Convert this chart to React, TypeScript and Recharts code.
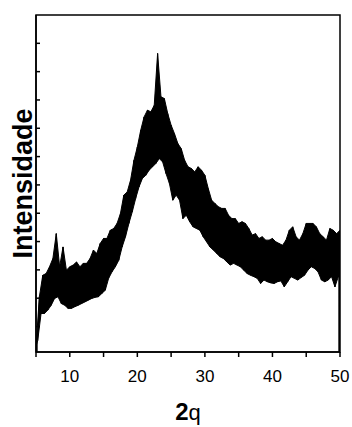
import { ComposedChart, Area, Line, XAxis, YAxis, ReferenceArea } from 'recharts';

// 2θ scan: the noisy trace is read as alternating crest / trough readings of the band
const scanStart = 5;
const scanStep = 0.25;

// crest readings at 5.0, 5.5, ... 50.0
const crests = [
  -7, 10.5, 18.1, 18.7, 21.1, 24.0, 32.8, 21.1, 28.1, 19.9,
  21.1, 21.7, 22.8, 21.1, 22.3, 22.3, 24.0, 27.0, 25.8, 29.3,
  31.1, 31.1, 34.0, 34.6, 36.4, 39.9, 46.4, 47.5, 51.7, 58.7,
  63.4, 69.3, 74.0, 76.4, 75.8, 78.1, 96.4, 81.1, 80.5, 75.2,
  71.1, 68.1, 64.6, 62.8, 58.7, 56.4, 55.8, 54.6, 56.4, 55.2,
  53.4, 48.7, 44.6, 43.4, 42.3, 41.7, 41.7, 39.3, 38.1, 38.1,
  36.4, 37.0, 36.4, 34.6, 32.3, 32.8, 31.1, 31.7, 30.5, 30.5,
  31.1, 29.9, 29.3, 28.7, 30.5, 34.0, 35.2, 31.7, 30.5, 32.8,
  36.4, 36.4, 36.4, 35.2, 32.8, 31.7, 30.5, 34.6, 34.0, 32.8,
  34.0,
];

// trough readings at 5.25, 5.75, ... 49.75
const troughs = [
  -5, 4.6, 4.6, 5.8, 7.5, 9.9, 10.5, 8.1, 7.5, 6.4,
  6.4, 7.0, 7.5, 8.1, 8.7, 9.3, 9.9, 10.3, 10.5, 11.7,
  12.8, 17.0, 19.3, 21.1, 23.4, 28.1, 31.7, 36.4, 40.5, 45.2,
  49.3, 52.3, 53.4, 55.2, 56.4, 57.6, 59.3, 58.1, 54.0, 50.5,
  44.6, 46.4, 44.6, 38.1, 39.3, 37.0, 35.2, 34.6, 34.0, 31.7,
  29.9, 28.1, 27.0, 25.8, 24.6, 24.0, 22.8, 21.7, 22.3, 21.7,
  21.1, 19.9, 18.7, 18.1, 17.6, 17.0, 15.2, 16.4, 15.8, 15.4,
  15.2, 15.8, 16.1, 14.0, 15.8, 17.6, 17.0, 16.4, 17.3, 18.1,
  19.9, 21.1, 20.5, 19.3, 16.4, 15.8, 16.4, 17.6, 14.0, 17.6,
];

const xTicks = [5, 10, 15, 20, 25, 30, 35, 40, 45, 50];
const yTicks = [0, 10, 20, 30, 40, 50, 60, 70, 80, 90, 100];

type Row = { tt: number; counts: number; crest: number | null; trough: number | null };
const data: Row[] = [];
crests.forEach((c, i) => {
  data.push({ tt: scanStart + i * 2 * scanStep, counts: c, crest: c, trough: null });
  if (i < troughs.length) {
    const t = troughs[i];
    data.push({ tt: scanStart + (i * 2 + 1) * scanStep, counts: t, crest: null, trough: t });
  }
});

const FONT = 'Liberation Sans, Arial, sans-serif';

const XTitle = ({ viewBox }: any) => {
  const cx = viewBox.x + viewBox.width / 2;
  return (
    <text x={cx} y={viewBox.y + 68} textAnchor="middle" fill="#000" fontFamily={FONT} fontSize={24}>
      <tspan fontWeight="bold">2</tspan>
      <tspan fontSize={22}>q</tspan>
    </text>
  );
};

export default function App() {
  return (
    <div style={{ position: 'absolute', left: 0, top: 0, width: 352, height: 427, background: '#fff' }}>
      <ComposedChart
        width={352}
        height={427}
        data={data}
        margin={{ top: 15, right: 12, bottom: 0, left: 0 }}
      >
        <Area
          type="linear"
          dataKey="crest"
          connectNulls
          baseValue={-9}
          stroke="#000"
          strokeWidth={1}
          fill="#000"
          fillOpacity={1}
          isAnimationActive={false}
        />
        <Area
          type="linear"
          dataKey="trough"
          connectNulls
          baseValue={-9}
          stroke="#000"
          strokeWidth={1}
          fill="#fff"
          fillOpacity={1}
          isAnimationActive={false}
        />
        <Line
          type="linear"
          dataKey="counts"
          stroke="#000"
          strokeWidth={1}
          dot={false}
          isAnimationActive={false}
        />
        <XAxis
          dataKey="tt"
          type="number"
          domain={[5, 50]}
          ticks={xTicks}
          allowDataOverflow
          height={75}
          stroke="#000"
          strokeWidth={1.5}
          tickSize={5}
          tickMargin={13}
          tickFormatter={(v: number) => (v % 10 === 0 ? String(v) : '')}
          tick={{ fill: '#000', fontSize: 17, fontFamily: FONT }}
          label={<XTitle />}
        />
        <YAxis
          type="number"
          domain={[-9, 110]}
          ticks={yTicks}
          allowDataOverflow
          width={36}
          stroke="#000"
          strokeWidth={1.5}
          tickSize={-4}
          tickFormatter={() => ''}
          tick={{ fontSize: 1 }}
          label={{
            value: 'Intensidade',
            angle: -90,
            position: 'insideLeft',
            offset: 22,
            style: {
              textAnchor: 'middle',
              fill: '#000',
              fontSize: 27,
              fontWeight: 'bold',
              fontFamily: FONT,
            },
          }}
        />
        <ReferenceArea
          x1={5}
          x2={50}
          y1={-9}
          y2={110}
          fill="none"
          stroke="#000"
          strokeWidth={1.5}
          ifOverflow="visible"
        />
      </ComposedChart>
    </div>
  );
}
